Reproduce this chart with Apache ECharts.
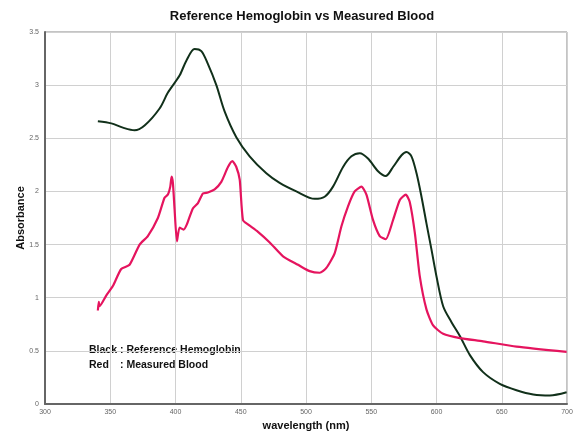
<!DOCTYPE html>
<html>
<head>
<meta charset="utf-8">
<script src="https://cdn.jsdelivr.net/npm/echarts@6/dist/echarts.min.js"></script>
<style>
  html, body { margin: 0; padding: 0; background: #fff; }
  #chart { width: 576px; height: 433px; }
</style>
</head>
<body>
<div id="chart"></div>
<script>
// Reference hemoglobin spectrum (black curve)
const refWavelength = [340.5, 350.8, 359.7, 368.6, 376.3, 387.8, 394.2, 403.1, 408.3, 414.6, 419.8, 424.8, 431.3, 437.7, 446.6, 456.8, 469.6, 479.8, 492.6, 506.7, 514.3, 520.7, 528.4, 534.8, 541.2, 547.5, 555.2, 561.1, 566.7, 573.2, 577, 580.8, 584.7, 588.5, 592.3, 596.2, 600, 605.1, 611.5, 617.9, 625.6, 635.7, 648.5, 661.3, 674.1, 686.9, 699.7];
const refAbsorb = [2.66, 2.64, 2.6, 2.575, 2.62, 2.78, 2.93, 3.09, 3.23, 3.34, 3.32, 3.2, 3.0, 2.75, 2.51, 2.33, 2.17, 2.08, 2.0, 1.93, 1.95, 2.045, 2.23, 2.33, 2.36, 2.31, 2.19, 2.145, 2.23, 2.34, 2.37, 2.33, 2.17, 1.95, 1.7, 1.45, 1.2, 0.92, 0.77, 0.64, 0.46, 0.3, 0.19, 0.13, 0.09, 0.08, 0.11];

// Measured blood spectrum (red curve)
const bloodWavelength = [340.5, 341.2, 341.8, 346.9, 352, 358.4, 364.8, 372.5, 378.8, 386.5, 391.6, 394.2, 396, 397, 398, 399.3, 401.1, 403.1, 406.2, 408.7, 413.3, 417.2, 421, 424.8, 430, 435.1, 440.2, 443.6, 446.6, 449.2, 451.7, 455.5, 463.2, 472.2, 482.4, 493.9, 502.8, 510.5, 515.6, 522, 527.1, 532.2, 537.3, 542.5, 546.3, 551.4, 556.5, 561.1, 566.7, 571.9, 576.5, 579.5, 583.4, 587.2, 592.3, 597.4, 605.1, 617.9, 635.7, 661.3, 699.7];
const bloodAbsorb = [0.88, 0.96, 0.92, 1.02, 1.11, 1.27, 1.31, 1.5, 1.58, 1.75, 1.94, 1.97, 2.045, 2.14, 2.08, 1.83, 1.53, 1.66, 1.64, 1.69, 1.84, 1.89, 1.98, 1.99, 2.02, 2.09, 2.23, 2.285, 2.23, 2.11, 1.73, 1.69, 1.62, 1.52, 1.39, 1.31, 1.25, 1.235, 1.28, 1.42, 1.67, 1.86, 2.0, 2.045, 1.97, 1.73, 1.58, 1.55, 1.73, 1.92, 1.97, 1.9, 1.61, 1.2, 0.89, 0.74, 0.66, 0.62, 0.59, 0.54, 0.49];

const titleText = "Reference Hemoglobin vs Measured Blood";
const xName = "wavelength (nm)";
const yName = "Absorbance";
const noteLines = [["Black", ": Reference Hemoglobin"], ["Red", ": Measured Blood"]];

const refData = refWavelength.map((w, i) => [w, refAbsorb[i]]);
const bloodData = bloodWavelength.map((w, i) => [w, bloodAbsorb[i]]);

const chart = echarts.init(document.getElementById("chart"));
const font = "Liberation Sans, Arial, sans-serif";

// titre centre + note en bas a gauche
const noteGraphics = [{
  type: "text", x: 302, y: 10,
  style: { text: titleText, font: "bold 13px " + font, fill: "#111", align: "center" }
}];
noteLines.forEach((line, i) => {
  noteGraphics.push({
    type: "text", left: 89, top: 345 + i * 15,
    style: { text: line[0], font: "bold 10.5px " + font, fill: "#111" }
  });
  noteGraphics.push({
    type: "text", left: 120, top: 345 + i * 15,
    style: { text: line[1], font: "bold 10.5px " + font, fill: "#111" }
  });
});

chart.setOption({
  animation: false,
  backgroundColor: "#fff",
  grid: {
    left: 45, right: 9, top: 32, bottom: 29, outerBoundsMode: "none",
    show: true, borderColor: "#888", borderWidth: 1
  },
  xAxis: {
    type: "value", min: 300, max: 700, interval: 50,
    name: xName, nameLocation: "middle", nameGap: 16,
    nameTextStyle: { fontFamily: font, fontSize: 11, fontWeight: "bold", color: "#111" },
    axisLine: { lineStyle: { color: "#666", width: 2 } },
    axisTick: { show: false },
    axisLabel: { fontFamily: font, fontSize: 7, color: "#666", margin: 5 },
    splitLine: { lineStyle: { color: "#d0d0d0", width: 1 } }
  },
  yAxis: {
    type: "value", min: 0, max: 3.5, interval: 0.5,
    name: yName, nameLocation: "middle", nameGap: 19, nameRotate: 90,
    nameMoveOverlap: false,
    nameTextStyle: { fontFamily: font, fontSize: 11, fontWeight: "bold", color: "#111" },
    axisLine: { show: true, lineStyle: { color: "#666", width: 2 } },
    axisTick: { show: false },
    axisLabel: { fontFamily: font, fontSize: 7, color: "#666", margin: 6 },
    splitLine: { lineStyle: { color: "#d0d0d0", width: 1 } }
  },
  graphic: noteGraphics,
  series: [
    {
      name: "Reference Hemoglobin", type: "line", data: refData,
      smooth: 0.3, showSymbol: false,
      lineStyle: { color: "#11301a", width: 2 }
    },
    {
      name: "Measured Blood", type: "line", data: bloodData,
      smooth: 0.2, showSymbol: false,
      lineStyle: { color: "#e5145e", width: 2.2 }
    }
  ]
});
</script>
</body>
</html>
